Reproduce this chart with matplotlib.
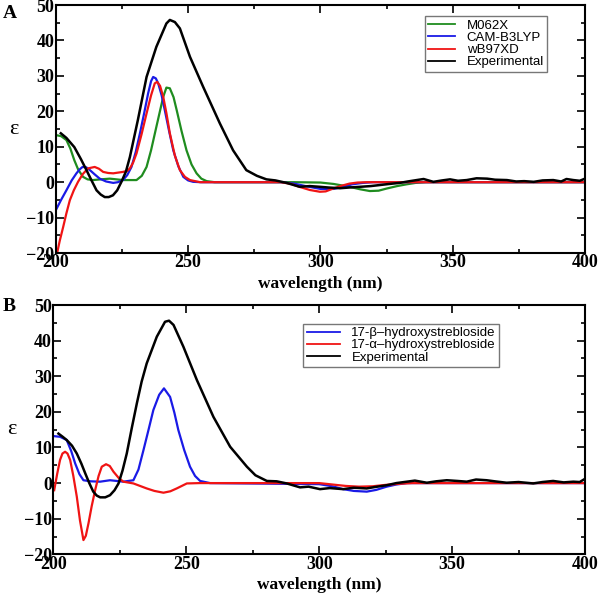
import matplotlib
matplotlib.use('Agg')
import matplotlib.pyplot as plt
from matplotlib.ticker import MultipleLocator

# ---- Panel A data ----
exp_a_x = [201.9, 204, 207, 209.5, 211.6, 213.5, 215.4, 217, 218.5, 220, 221.6, 223.2, 224.8, 226.5, 228,
           231, 234.3, 238, 241.8, 243.1, 245, 246.9, 250.7, 255.7, 262, 267, 272, 276, 279.6, 283, 287.2,
           292.2, 296, 299.8, 303, 307.4, 311, 315, 319, 322.5, 326, 330, 333, 336.4, 339, 342.7, 346, 349,
           352, 355.3, 359, 363, 366, 370.5, 374, 377, 380.6, 384, 388, 391, 393, 395.6, 398, 400]
exp_a_y = [13.8, 12.5, 9.9, 6.5, 3.4, 0.5, -2.3, -3.5, -4.2, -4.2, -3.7, -2.3, 0.1, 3.0, 7.1,
           17.5, 29.7, 38.2, 44.8, 45.8, 45.2, 43.4, 35.4, 26.9, 16.6, 9.0, 3.4, 1.8, 0.8, 0.5, -0.2,
           -1.3, -1.1, -1.3, -1.5, -1.7, -1.5, -1.3, -1.1, -0.8, -0.5, -0.2, 0.2, 0.6, 0.9, 0.1, 0.5, 0.8,
           0.4, 0.6, 1.1, 1.0, 0.7, 0.6, 0.2, 0.3, 0.1, 0.5, 0.6, 0.2, 0.9, 0.6, 0.4, 1.0]

m062x_x = [200, 202, 204, 205.5, 207, 208.5, 210.3, 212, 214, 217, 220.4, 225.4, 230.5, 232.5, 234.3, 236,
           238, 240.6, 241.8, 243.1, 244.5, 245.7, 247.5, 249.4, 251.3, 253.2, 255, 257, 260, 290, 300, 305,
           311, 315, 318.7, 322, 325, 329, 332.6, 336, 340, 400]
m062x_y = [13.3, 13.0, 11.9, 9.5, 6.2, 3.5, 1.5, 0.8, 0.6, 0.8, 1.0, 0.6, 0.6, 1.8, 4.3, 9.0,
           15.6, 24.1, 26.7, 26.5, 24.0, 20.3, 14.5, 9.0, 5.0, 2.5, 1.0, 0.3, 0, 0, -0.1, -0.5,
           -1.3, -2.0, -2.5, -2.4, -1.8, -1.1, -0.6, -0.2, 0, 0]

cam_x = [200, 202, 204, 206, 207.8, 209, 210.1, 211.5, 212.9, 214.7, 216.6, 219, 221.7, 223.5, 225.4, 227,
         228.6, 230.2, 231.8, 233.4, 234.9, 236, 236.8, 237.8, 238.7, 240, 241.2, 242.8, 244.4, 246.3,
         248.2, 250, 251.9, 255, 285, 290, 295, 300, 305, 308.5, 312, 316, 320, 400]
cam_y = [-7.9, -5.0, -2.3, 0.5, 2.5, 3.6, 4.3, 4.2, 3.4, 2.2, 1.0, 0.2, -0.2, 0.0, 0.6, 2.0,
         4.3, 8.5, 13.8, 19.5, 25.1, 28.5, 29.7, 29.3, 27.9, 24.5, 20.3, 14.5, 9.0, 4.5,
         1.5, 0.5, 0.1, 0, 0, -0.4, -1.2, -1.9, -1.9, -1.3, -0.6, -0.2, 0, 0]

wb97_x = [200.5, 201.5, 202.8, 204, 205.3, 206.8, 208.4, 210.2, 212.2, 214.7, 216.3, 217.9, 219.8, 221.7,
          223.5, 225.4, 227, 228, 229.2, 230.5, 232.4, 234.3, 236, 237.4, 238.3, 239.4, 240.6, 241.8,
          243.1, 245, 246.9, 248.8, 250.7, 254.5, 285, 289, 292, 296, 299.8, 302, 304.8, 308, 311, 314,
          317.5, 400]
wb97_y = [-20, -16.5, -12.6, -8.8, -5.1, -2.3, 0.1, 2.3, 3.9, 4.3, 3.8, 2.9, 2.6, 2.5,
          2.7, 2.9, 3.2, 3.9, 5.5, 8.1, 13.5, 19.4, 24.5, 27.9, 28.3, 27.2, 24.1, 19.5,
          13.8, 7.5, 3.4, 1.5, 0.6, 0, 0, -0.5, -1.3, -2.2, -2.7, -2.6, -1.8, -1.0, -0.4, -0.1,
          0, 0]

# ---- Panel B data ----
exp_b_x = [201.9, 203.5, 205, 207, 208.8, 210.5, 212, 213.5, 215, 216.3, 217.6, 219.5, 221.3, 223, 224.5,
           226, 227.6, 229.5, 231.4, 233.2, 235.1, 238.9, 242, 243.5, 245.2, 248.9, 254, 260.2, 266.5,
           272.8, 276, 280.3, 284, 287.8, 292.8, 296, 300.3, 304, 309, 313, 317.9, 321, 325.4, 329, 333,
           336, 340.5, 344, 348, 352, 355.5, 359, 363, 366, 370.5, 375, 380.5, 384, 388, 392, 395.6, 398, 400]
exp_b_y = [13.9, 13.0, 12.1, 10.5, 8.3, 5.5, 2.7, 0.0, -2.4, -3.5, -4.0, -4.0, -3.4, -2.0, -0.1,
           3.5, 8.3, 15.5, 22.4, 28.5, 33.6, 41.1, 45.3, 45.6, 44.4, 38.3, 28.9, 18.6, 10.2,
           4.6, 2.2, 0.6, 0.5, -0.1, -1.2, -1.0, -1.7, -1.4, -1.7, -1.3, -1.5, -1.1, -0.6, 0.0, 0.4,
           0.7, 0.1, 0.5, 0.8, 0.6, 0.4, 1.0, 0.8, 0.5, 0.1, 0.3, -0.1, 0.3, 0.6, 0.2, 0.4, 0.3, 1.2]

beta_x = [200, 202.5, 205, 206.7, 208.2, 209.8, 211.3, 214, 217.6, 221.3, 226.3, 230.1, 232, 233.9, 235.8,
          237.6, 239.8, 241.6, 243.9, 245.5, 247, 249.2, 251.4, 253.3, 255.2, 258.9, 300, 305, 309, 313,
          317.9, 321.5, 325.4, 329, 333, 400]
beta_y = [13.2, 13.0, 12.1, 9.0, 5.5, 2.5, 0.8, 0.5, 0.4, 0.8, 0.4, 0.8, 3.8, 9.3, 15.0,
          20.5, 24.8, 26.6, 24.2, 19.8, 14.9, 9.3, 4.6, 2.0, 0.6, 0, -0.3, -0.9, -1.7, -2.2,
          -2.4, -1.9, -1.0, -0.4, 0, 0]

alpha_x = [200.3, 201.4, 202.5, 203.4, 204.4, 205.3, 206.3, 207.5, 208.8, 210, 211.3, 212.2, 213.2, 214.4,
           215.7, 217, 218.2, 219.8, 221.2, 222.6, 224.5, 226.3, 230.1, 235.1, 238, 241.4, 244, 246.4,
           250.2, 255, 300, 305, 310, 315, 320, 325, 330, 335, 400]
alpha_y = [-2.0, 2.5, 6.5, 8.3, 8.8, 8.3, 6.5, 2.0, -3.8, -10.5, -16.0, -14.8, -11.3, -6.5,
           -2.0, 2.0, 4.6, 5.3, 4.8, 3.2, 1.5, 0.4, -0.1, -1.5, -2.2, -2.7, -2.3, -1.5,
           -0.1, 0, 0, -0.4, -0.8, -1.0, -0.9, -0.5, -0.2, 0, 0]

green = '#1f8c1f'
blue = '#1a1ae6'
red = '#f01414'

serif = 'Liberation Serif'
sans = 'Liberation Sans'

fig = plt.figure(figsize=(6, 5.94), dpi=100)
ax1 = fig.add_axes([0.093, 0.574, 0.882, 0.4175])
ax2 = fig.add_axes([0.089, 0.0668, 0.886, 0.4197])


def style_axis(ax):
    ax.set_xlim(200, 400)
    ax.set_ylim(-20, 50)
    ax.xaxis.set_major_locator(MultipleLocator(50))
    ax.xaxis.set_minor_locator(MultipleLocator(25))
    ax.yaxis.set_major_locator(MultipleLocator(10))
    ax.yaxis.set_minor_locator(MultipleLocator(5))
    ax.tick_params(which='both', direction='in', top=True, right=True, width=1.2)
    ax.tick_params(which='major', length=6, labelsize=13, pad=1)
    ax.tick_params(which='minor', length=3)
    for lab in ax.get_xticklabels() + ax.get_yticklabels():
        lab.set_fontfamily(serif)
        lab.set_fontweight('bold')
    for s in ax.spines.values():
        s.set_linewidth(1.5)
    ax.set_xlabel('wavelength (nm)', fontfamily=serif, fontweight='bold', fontsize=12.5, labelpad=3)
    ax.set_ylabel('ε', fontfamily=serif, fontsize=16, rotation=0, labelpad=9, va='center')


def style_legend(leg):
    leg.get_frame().set_edgecolor('#555555')
    leg.get_frame().set_linewidth(1.0)
    for l in leg.get_lines():
        l.set_linewidth(1.3)


# Panel A
ax1.plot(m062x_x, m062x_y, color=green, lw=1.6, label='M062X')
ax1.plot(cam_x, cam_y, color=blue, lw=1.6, label='CAM-B3LYP')
ax1.plot(wb97_x, wb97_y, color=red, lw=1.6, label='wB97XD')
ax1.plot(exp_a_x, exp_a_y, color='black', lw=1.8, label='Experimental')
style_axis(ax1)
leg1 = ax1.legend(loc='upper left', bbox_to_anchor=(0.698, 0.955), prop={'family': sans, 'size': 9.5},
                  fancybox=False, handlelength=2.0, borderpad=0.25, labelspacing=0.0,
                  handletextpad=0.9, borderaxespad=0)
style_legend(leg1)

# Panel B
ax2.plot(beta_x, beta_y, color=blue, lw=1.6, label='17-β–hydroxystrebloside')
ax2.plot(alpha_x, alpha_y, color=red, lw=1.6, label='17-α–hydroxystrebloside')
ax2.plot(exp_b_x, exp_b_y, color='black', lw=1.8, label='Experimental')
style_axis(ax2)
leg2 = ax2.legend(loc='upper left', bbox_to_anchor=(0.47, 0.925), prop={'family': sans, 'size': 9.5},
                  fancybox=False, handlelength=2.5, borderpad=0.25, labelspacing=0.0,
                  handletextpad=0.9, borderaxespad=0)
style_legend(leg2)

# Panel letters
fig.text(0.005, 0.978, 'A', fontfamily=serif, fontweight='bold', fontsize=14, va='center')
fig.text(0.005, 0.484, 'B', fontfamily=serif, fontweight='bold', fontsize=14, va='center')

fig.savefig('out.png', dpi=100)
